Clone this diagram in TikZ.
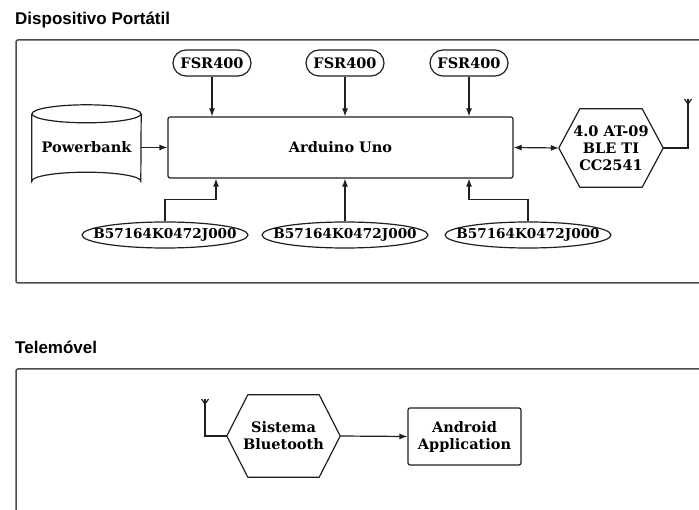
\documentclass[tikz,border=0pt]{standalone}
\usepackage{fontspec}
\setmainfont{DejaVu Serif}
\newfontfamily\titlefont{Liberation Sans}
\usetikzlibrary{shapes.misc,shapes.geometric,arrows.meta,calc}
\begin{document}
\begin{tikzpicture}[x=1pt,y=-1pt,
  nodefont/.style={font=\bfseries\fontsize{14.5}{17}\selectfont, align=center},
  ln/.style={line width=1.2pt, draw=black!88},
  cont/.style={line width=1.5pt, draw=black!70, rounded corners=2pt},
  arr/.style={ln, -{Latex[length=8pt,width=6pt]}},
  darr/.style={ln, {Latex[length=8pt,width=6pt]}-{Latex[length=8pt,width=6pt]}},
  stadium/.style={nodefont, ln, rounded rectangle, minimum width=78pt, minimum height=26pt, inner sep=0pt},
  oval/.style={nodefont, font=\bfseries\fontsize{13.6}{16}\selectfont, ln, ellipse, minimum width=166pt, minimum height=26pt, inner sep=0pt},
  boxnode/.style={nodefont, ln, rectangle, rounded corners=2pt, inner sep=0pt},
  hexnode/.style={nodefont, rectangle, inner sep=0pt},
  ttl/.style={font=\titlefont\bfseries\fontsize{17}{19}\selectfont, anchor=base west, inner sep=0pt}
]
\clip (0,0) rectangle (699,510);
\fill[white] (0,0) rectangle (699,510);

% titles
\node[ttl] (t1) at (15,25) {Dispositivo Portátil};
\node[ttl] (t2) at (15,354) {Telemóvel};

% containers
\draw[cont] (16,40) rectangle (720,283);
\draw[cont] (16,369) rectangle (720,530);

% Arduino
\node[boxnode, minimum width=345pt, minimum height=61pt] (ard) at (340.5,147.5) {Arduino Uno};

% FSR
\node[stadium] (f1) at (212,63) {\makebox[0pt]{FSR400}};
\node[stadium] (f2) at (345,63) {\makebox[0pt]{FSR400}};
\node[stadium] (f3) at (469,63) {\makebox[0pt]{FSR400}};

% B57164
\node[oval] (b1) at (165,235) {\makebox[0pt]{B57164K0472J000}};
\node[oval] (b2) at (345,235) {\makebox[0pt]{B57164K0472J000}};
\node[oval] (b3) at (528,235) {\makebox[0pt]{B57164K0472J000}};

% Powerbank cylinder
\node[hexnode, minimum width=109pt, minimum height=85pt] (pb) at (86.5,147.5) {\raisebox{-9pt}{Powerbank}};
\draw[ln] ($(pb.north west)+(0,9)$) -- ($(pb.south west)+(0,-9)$)
  arc[start angle=180, end angle=360, x radius=54.5pt, y radius=-9pt]
  -- ($(pb.north east)+(0,9)$);
\draw[ln] ($(pb.north)+(0,9)$) ellipse[x radius=54.5pt, y radius=9pt];

% BLE hexagon
\node[hexnode, minimum width=104pt, minimum height=78pt] (ble) at (611,148) {4.0 AT-09\\BLE TI\\CC2541};
\draw[ln, line join=round] (ble.west) -- ($(ble.north west)+(21,0)$) -- ($(ble.north east)+(-21,0)$)
  -- (ble.east) -- ($(ble.south east)+(-21,0)$) -- ($(ble.south west)+(21,0)$) -- cycle;

% Sistema Bluetooth hexagon
\node[hexnode, minimum width=113pt, minimum height=82pt] (sb) at (283.5,436) {Sistema\\Bluetooth};
\draw[ln, line join=round] (sb.west) -- ($(sb.north west)+(21,0)$) -- ($(sb.north east)+(-21,0)$)
  -- (sb.east) -- ($(sb.south east)+(-21,0)$) -- ($(sb.south west)+(21,0)$) -- cycle;

% Android
\node[boxnode, minimum width=113pt, minimum height=57pt] (app) at (464.5,436.5) {Android\\Application};

% antenna coordinates
\coordinate (ant1) at (688,99);
\coordinate (ant2) at (205,399);

% connectors
\draw[arr] (f1.south) -- (f1.south |- ard.north);
\draw[arr] (f2.south) -- (f2.south |- ard.north);
\draw[arr] (f3.south) -- (f3.south |- ard.north);
\draw[arr] (b1.north) -- ++(0,-22) -| ([xshift=-124.5pt]ard.south);
\draw[arr] (b2.north) -- (b2.north |- ard.south);
\draw[arr] (b3.north) -- ++(0,-22) -| ([xshift=128.5pt]ard.south);
\draw[arr] (pb.east) -- (ard.west);
\draw[darr] (ard.east) -- (ble.west);
\draw[arr] (sb.east) -- (app.west);

% antennas
\draw[ln] (ble.east) -| (ant1);
\draw[ln] ($(ant1)+(-3.5,0)$) -- ($(ant1)+(0,5)$) -- ($(ant1)+(3.5,0)$);
\draw[ln] (sb.west) -| (ant2);
\draw[ln] ($(ant2)+(-3.5,0)$) -- ($(ant2)+(0,5)$) -- ($(ant2)+(3.5,0)$);
\end{tikzpicture}
\end{document}
